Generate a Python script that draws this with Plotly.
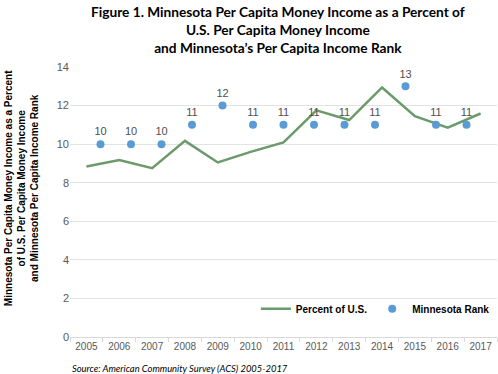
import plotly.graph_objects as go

years = ["2005", "2006", "2007", "2008", "2009", "2010", "2011", "2012", "2013", "2014", "2015", "2016", "2017"]
percent_of_us = [8.84, 9.18, 8.75, 10.17, 9.05, 9.6, 10.09, 11.75, 11.25, 12.94, 11.45, 10.85, 11.59]
rank_x = [1, 2, 3, 4, 5, 6, 7, 8, 9, 10, 11, 12, 13]
mn_rank = [10, 10, 10, 11, 12, 11, 11, 11, 11, 11, 13, 11, 11]
y_ticks = [0, 2, 4, 6, 8, 10, 12, 14]

fig = go.Figure()
fig.add_trace(go.Scatter(
    x=years, y=percent_of_us, mode="lines", name="Percent of U.S.",
    line=dict(color="#6b9a6b", width=2.5), xaxis="x", yaxis="y",
))
fig.add_trace(go.Scatter(
    x=rank_x, y=mn_rank, mode="markers+text", name="Minnesota Rank",
    marker=dict(color="#5b9bd5", size=8),
    text=[str(v) for v in mn_rank], textposition="top center",
    textfont=dict(family="Liberation Sans, Arial", size=11, color="#505050"),
    xaxis="x2", yaxis="y",
))

fig.update_layout(
    width=498, height=374,
    margin=dict(l=70, r=1, t=67, b=37),
    paper_bgcolor="white", plot_bgcolor="white",
    xaxis=dict(
        type="category", tickson="boundaries", ticks="outside", ticklen=4,
        tickcolor="#d9d9d9", showline=True, linecolor="#d9d9d9",
        showgrid=False, tickfont=dict(family="Liberation Sans, Arial", size=10, color="#595959"),
        range=[-0.5, 12.5],
    ),
    xaxis2=dict(overlaying="x", range=[0, 14], visible=False),
    yaxis=dict(
        range=[0, 14], tickvals=y_ticks, showgrid=True, gridcolor="#e3e3e3",
        zeroline=False, showline=False, ticks="",
        tickfont=dict(family="Liberation Sans, Arial", size=11, color="#595959"),
    ),
    legend=dict(
        orientation="h", x=0.995, xanchor="right", y=0.105, yanchor="middle",
        font=dict(family="Liberation Sans, Arial", size=10, color="black", weight="bold"),
        bgcolor="rgba(0,0,0,0)", itemwidth=30, entrywidth=0,
    ),
    annotations=[
        dict(
            text="<b>Figure 1. Minnesota Per Capita Money Income as a Percent of<br>U.S. Per Capita Money Income<br>and Minnesota\u2019s Per Capita Income Rank</b>",
            xref="paper", yref="paper", x=0.486, y=1.245, xanchor="center", yanchor="top",
            showarrow=False,
            font=dict(family="Lato", size=13.7, color="black"),
        ),
        dict(
            text="<b>Minnesota Per Capita Money Income as a Percent<br>of U.S. Per Capita Money Income<br>and Minnesota Per Capita Income Rank</b>",
            xref="paper", yref="paper", x=-0.112, y=0.552, xanchor="center", yanchor="middle",
            textangle=-90, showarrow=False,
            font=dict(family="Liberation Sans, Arial", size=10, color="black"),
        ),
        dict(
            text="<i>Source: American Community Survey (ACS) 2005-2017</i>",
            xref="paper", yref="paper", x=0.0, y=-0.115, xanchor="left", yanchor="middle",
            showarrow=False,
            font=dict(family="Lato", size=9.4, color="black"),
        ),
    ],
)

fig.write_html(
    "out.html",
    config={"displayModeBar": False},
    post_script="document.body.style.margin='0';document.body.style.overflow='hidden';",
)
